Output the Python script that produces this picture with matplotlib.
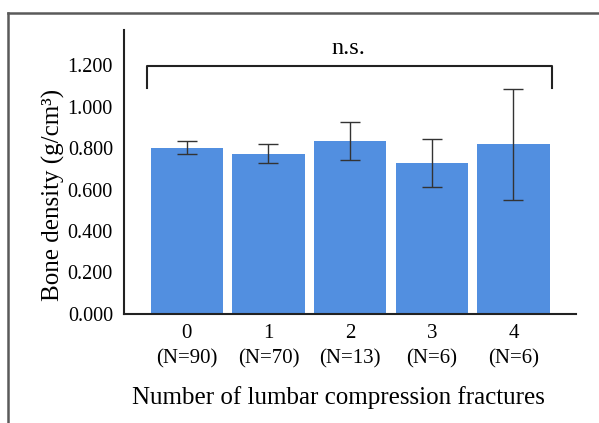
import matplotlib.pyplot as plt
from matplotlib.lines import Line2D

# data
fracture_counts = ["0", "1", "2", "3", "4"]
group_sizes = [90, 70, 13, 6, 6]
bone_density = [0.803, 0.772, 0.833, 0.726, 0.818]
density_err = [0.032, 0.046, 0.092, 0.116, 0.268]

plt.rcParams["font.family"] = ["Liberation Serif", "DejaVu Serif"]

fig = plt.figure(figsize=(5.99, 4.23), dpi=100)
ax = fig.add_axes([0.207, 0.258, 0.755, 0.671])

x = list(range(len(fracture_counts)))
ax.bar(x, bone_density, width=0.885, color="#528FE0", zorder=1)
ax.errorbar(x, bone_density, yerr=density_err, fmt="none",
            ecolor="#333333", elinewidth=1.0, capsize=7, capthick=1.0, zorder=2)

ax.set_xlim(-0.77, 4.77)
ax.set_ylim(0, 1.37)
yticks = [0, 0.2, 0.4, 0.6, 0.8, 1.0, 1.2]
ax.set_yticks(yticks)
ax.set_yticklabels([f"{v:.3f}" for v in yticks], fontsize=14.5)
ax.set_xticks(x)
ax.set_xticklabels([f"{c}\n(N={n})" for c, n in zip(fracture_counts, group_sizes)],
                   fontsize=15, linespacing=1.45)
ax.tick_params(axis="y", length=0, pad=8)
ax.tick_params(axis="x", length=0, pad=7)

for side in ["top", "right"]:
    ax.spines[side].set_visible(False)
for side in ["left", "bottom"]:
    ax.spines[side].set_linewidth(1.5)
    ax.spines[side].set_color("#222222")

ax.set_ylabel("Bone density (g/cm³)", fontsize=18)
ax.yaxis.label.set_va("center")
ax.yaxis.set_label_coords(-0.155, 0.42)
ax.set_xlabel("Number of lumbar compression fractures", fontsize=18)
ax.xaxis.label.set_va("center")
ax.xaxis.set_label_coords(0.475, -0.295)

# significance bracket
ax.plot([-0.49, -0.49, 4.47, 4.47], [1.09, 1.195, 1.195, 1.09], color="#222222",
        lw=1.5, solid_joinstyle="round", clip_on=False)
ax.text(1.98, 1.28, "n.s.", ha="center", va="center", fontsize=17.5)

# outer frame (cropped at right and bottom)
fig.add_artist(Line2D([0.013, 1.0], [0.969, 0.969], color="#5a5a5a", lw=1.8))
fig.add_artist(Line2D([0.013, 0.013], [0.0, 0.969], color="#5a5a5a", lw=1.8))

fig.savefig("out.png", dpi=100)
